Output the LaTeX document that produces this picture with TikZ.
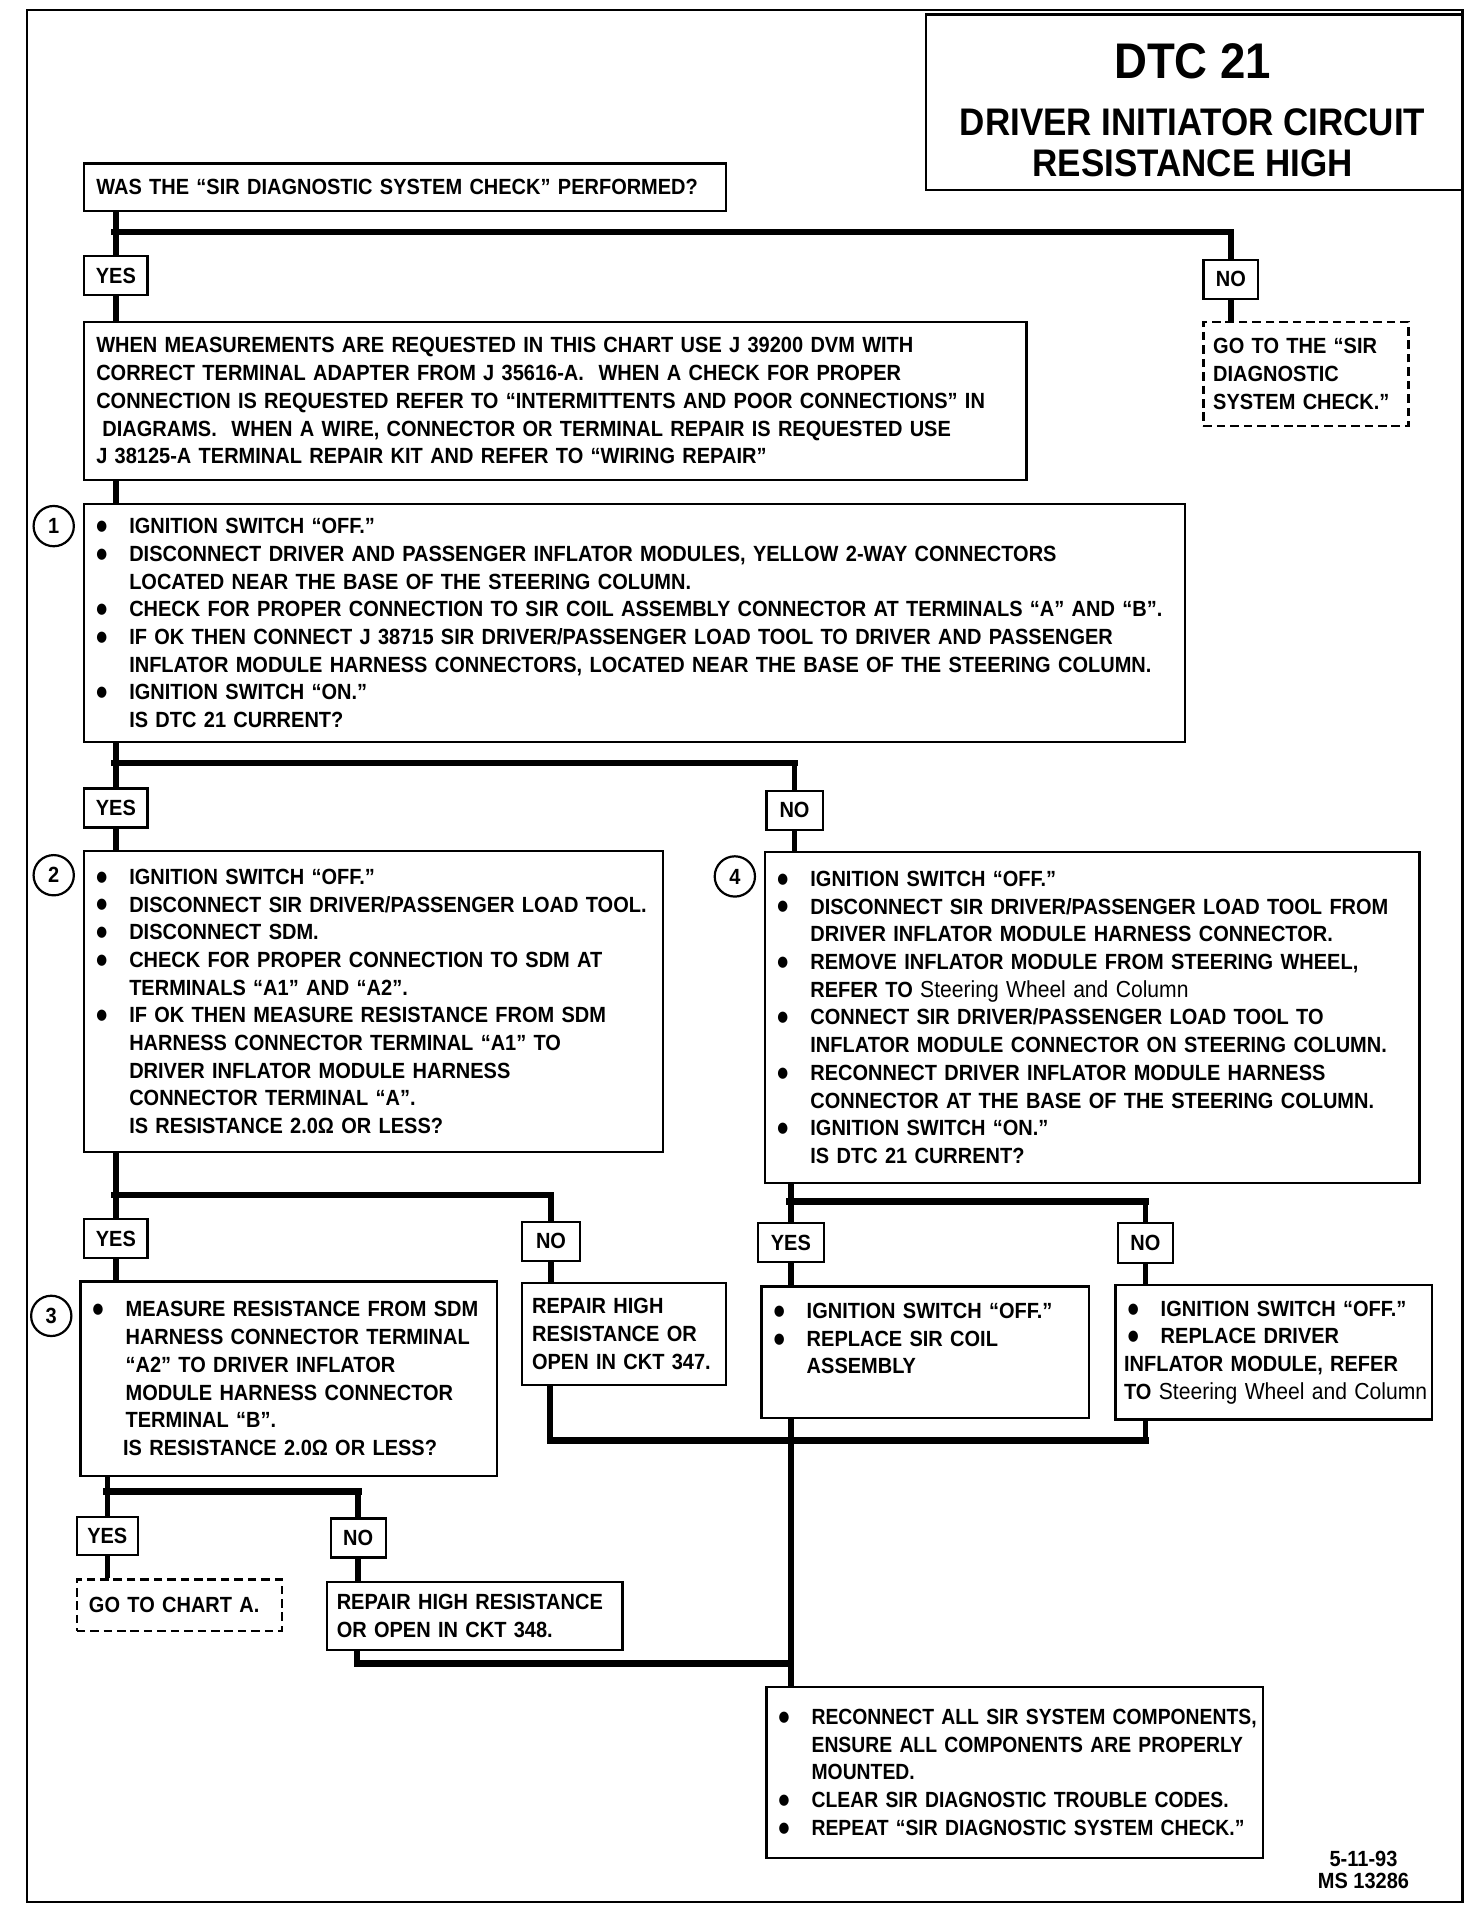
\documentclass[tikz,border=0pt]{standalone}
\usepackage{fontspec}
\setmainfont[FakeStretch=0.91]{Liberation Sans}
\newfontfamily\dotfont[FakeStretch=0.85]{DejaVu Sans}
\newcommand{\chartfont}{\fontsize{18}{22.7}\selectfont\bfseries}
\newcommand{\dotmark}{\hspace*{4pt}\raisebox{2.5pt}{\dotfont\fontsize{12}{12}\selectfont ●}}
\newcommand{\bul}[1]{\mbox{\makebox[31pt][l]{\dotmark}#1}}
\newcommand{\ind}[1]{\mbox{\hspace*{31pt}#1}}
\newcommand{\swc}{{\fontsize{19}{22.7}\selectfont\mdseries Steering Wheel and Column}}

\begin{document}
\begin{tikzpicture}[
    x=1pt,y=-1pt,
    box/.style={rectangle,draw,line width=1.8pt,anchor=north west,
      inner xsep=6pt,inner ysep=0pt,align=left,font=\chartfont},
    dbox/.style={box,dash pattern=on 7pt off 4pt},
    tag/.style={rectangle,draw,line width=1.8pt,anchor=north west,
      inner sep=0pt,minimum height=32pt,font=\chartfont},
    num/.style={circle,draw,line width=1.8pt,minimum size=33pt,
      inner sep=0pt,font=\chartfont},
    trunk/.style={line width=4.5pt},
    bar/.style={line width=5.5pt,line cap=rect}
  ]
  \useasboundingbox (0,0) rectangle (1206,1568);
  \draw[line width=2pt] (22,8) rectangle (1198,1558);

  % title block
  \node[rectangle,draw,line width=1.8pt,anchor=north west,inner sep=0pt,
    minimum width=439pt,minimum height=144pt] (ttl) at (758,11) {};
  \node[font=\fontsize{41}{41}\selectfont\bfseries] (dtc) at (977,50) {DTC 21};
  \node[align=center,font=\fontsize{31.5}{33}\selectfont\bfseries] (ttlsub) at (977,117)
    {DRIVER INITIATOR CIRCUIT\\RESISTANCE HIGH};

  \node[box,inner xsep=10pt,text width=506pt,minimum height=39pt] (q0) at (68,133)
    {WAS THE “SIR DIAGNOSTIC SYSTEM CHECK” PERFORMED?};
  \node[tag,minimum width=52pt] (yes0) at (68,209) {YES};
  \node[tag,minimum width=45pt] (no0) at (985,212) {NO};
  \node[box,inner xsep=10pt,text width=752pt,minimum height=129pt] (info) at (68,263)
    {\mbox{WHEN MEASUREMENTS ARE REQUESTED IN THIS CHART USE J 39200 DVM WITH}\\
     \mbox{CORRECT TERMINAL ADAPTER FROM J 35616-A.\ \ WHEN A CHECK FOR PROPER}\\
     \mbox{CONNECTION IS REQUESTED REFER TO “INTERMITTENTS AND POOR CONNECTIONS” IN}\\
     \mbox{\hspace*{5pt}DIAGRAMS.\ \ WHEN A WIRE, CONNECTOR OR TERMINAL REPAIR IS REQUESTED USE}\\
     \mbox{J 38125-A TERMINAL REPAIR KIT AND REFER TO “WIRING REPAIR”}};
  \node[dbox,inner xsep=8pt,text width=152pt,minimum height=85pt] (gosys) at (985,263)
    {GO TO THE “SIR\\DIAGNOSTIC\\SYSTEM CHECK.”};

  % step 1
  \node[box,text width=890pt,minimum height=195pt] (s1) at (68,412)
    {\bul{IGNITION SWITCH “OFF.”}\\
     \bul{DISCONNECT DRIVER AND PASSENGER INFLATOR MODULES, YELLOW 2-WAY CONNECTORS}\\
     \ind{LOCATED NEAR THE BASE OF THE STEERING COLUMN.}\\
     \bul{CHECK FOR PROPER CONNECTION TO SIR COIL ASSEMBLY CONNECTOR AT TERMINALS “A” AND “B”.}\\
     \bul{IF OK THEN CONNECT J 38715 SIR DRIVER/PASSENGER LOAD TOOL TO DRIVER AND PASSENGER}\\
     \ind{INFLATOR MODULE HARNESS CONNECTORS, LOCATED NEAR THE BASE OF THE STEERING COLUMN.}\\
     \bul{IGNITION SWITCH “ON.”}\\
     \ind{IS DTC 21 CURRENT?}};
  \node[num] (c1) at (44,431) {1};
  \node[tag,minimum width=52pt] (yes1) at (68,645) {YES};
  \node[tag,minimum width=46pt] (no1) at (627,647) {NO};

  % step 2
  \node[box,text width=462pt,minimum height=247pt] (s2) at (68,696)
    {\bul{IGNITION SWITCH “OFF.”}\\
     \bul{DISCONNECT SIR DRIVER/PASSENGER LOAD TOOL.}\\
     \bul{DISCONNECT SDM.}\\
     \bul{CHECK FOR PROPER CONNECTION TO SDM AT}\\
     \ind{TERMINALS “A1” AND “A2”.}\\
     \bul{IF OK THEN MEASURE RESISTANCE FROM SDM}\\
     \ind{HARNESS CONNECTOR TERMINAL “A1” TO}\\
     \ind{DRIVER INFLATOR MODULE HARNESS}\\
     \ind{CONNECTOR TERMINAL “A”.}\\
     \ind{IS RESISTANCE 2.0Ω OR LESS?}};
  \node[num] (c2) at (44,717) {2};

  % step 4
  \node[box,text width=524pt,minimum height=271pt] (s4) at (626,697)
    {\bul{IGNITION SWITCH “OFF.”}\\
     \bul{DISCONNECT SIR DRIVER/PASSENGER LOAD TOOL FROM}\\
     \ind{DRIVER INFLATOR MODULE HARNESS CONNECTOR.}\\
     \bul{REMOVE INFLATOR MODULE FROM STEERING WHEEL,}\\
     \ind{REFER TO \swc}\\
     \bul{CONNECT SIR DRIVER/PASSENGER LOAD TOOL TO}\\
     \ind{INFLATOR MODULE CONNECTOR ON STEERING COLUMN.}\\
     \bul{RECONNECT DRIVER INFLATOR MODULE HARNESS}\\
     \ind{CONNECTOR AT THE BASE OF THE STEERING COLUMN.}\\
     \bul{IGNITION SWITCH “ON.”}\\
     \ind{IS DTC 21 CURRENT?}};
  \node[num] (c4) at (602,718) {4};

  \node[tag,minimum width=52pt] (yes2) at (68,998) {YES};
  \node[tag,minimum width=47pt] (no2) at (427,1000) {NO};
  \node[tag,minimum width=54pt] (yes4) at (620,1001) {YES};
  \node[tag,minimum width=45pt,minimum height=33pt] (no4) at (915,1001) {NO};

  % step 3 and repairs
  \node[box,text width=329pt,minimum height=159pt] (s3) at (65,1049)
    {\bul{MEASURE RESISTANCE FROM SDM}\\
     \ind{HARNESS CONNECTOR TERMINAL}\\
     \ind{“A2” TO DRIVER INFLATOR}\\
     \ind{MODULE HARNESS CONNECTOR}\\
     \ind{TERMINAL “B”.}\\
     \mbox{\hspace*{29pt}IS RESISTANCE 2.0Ω OR LESS?}};
  \node[num] (c3) at (42,1078) {3};
  \node[box,inner xsep=8pt,text width=151pt,minimum height=84pt] (rep347) at (427,1050)
    {REPAIR HIGH\\RESISTANCE OR\\OPEN IN CKT 347.};
  \node[box,text width=256pt,minimum height=108pt] (coil) at (623,1053)
    {\bul{IGNITION SWITCH “OFF.”}\\
     \bul{REPLACE SIR COIL}\\
     \ind{ASSEMBLY}\\
     \mbox{}};
  \node[box,inner xsep=3pt,text width=253pt,minimum height=110pt] (drvmod) at (913,1052)
    {\mbox{\hspace*{3pt}\bul{IGNITION SWITCH “OFF.”}}\\
     \mbox{\hspace*{3pt}\bul{REPLACE DRIVER}}\\
     \mbox{\hspace*{4pt}INFLATOR MODULE, REFER}\\
     \mbox{\hspace*{4pt}TO \swc}};

  \node[tag,minimum width=50pt,minimum height=31pt] (yes3) at (62,1242) {YES};
  \node[tag,minimum width=45pt] (no3) at (270,1243) {NO};
  \node[dbox,inner xsep=10pt,text width=148pt,minimum height=42pt] (chartA) at (62,1293)
    {GO TO CHART A.};
  \node[box,inner xsep=8pt,text width=226pt,minimum height=56pt] (rep348) at (267,1295)
    {REPAIR HIGH RESISTANCE\\OR OPEN IN CKT 348.};

  % final step
  \node[box,inner xsep=3pt,text width=401pt,minimum height=140pt,
    font=\chartfont\addfontfeature{FakeStretch=0.88}] (final) at (627,1381)
    {\mbox{\hspace*{3pt}\bul{RECONNECT ALL SIR SYSTEM COMPONENTS,}}\\
     \mbox{\hspace*{3pt}\ind{ENSURE ALL COMPONENTS ARE PROPERLY}}\\
     \mbox{\hspace*{3pt}\ind{MOUNTED.}}\\
     \mbox{\hspace*{3pt}\bul{CLEAR SIR DIAGNOSTIC TROUBLE CODES.}}\\
     \mbox{\hspace*{3pt}\bul{REPEAT “SIR DIAGNOSTIC SYSTEM CHECK.”}}};
  \node[align=center,font=\fontsize{18}{18}\selectfont\bfseries] (dwg) at (1117,1532)
    {5-11-93\\MS 13286};

  % answers to q0
  \coordinate (br0) at (94,190);
  \draw[trunk] (q0.south -| yes0) -- (yes0);
  \draw[bar] (br0) -- (br0 -| no0);
  \draw[trunk] (br0 -| no0) -- (no0);
  \draw[trunk] (yes0) -- (info.north -| yes0);
  \draw[trunk] (no0) -- (gosys.north -| no0);
  \draw[trunk] (info.south -| yes1) -- (s1.north -| yes1);

  % answers to step 1
  \coordinate (br1) at (94,625);
  \draw[trunk] (s1.south -| yes1) -- (yes1);
  \draw[bar] (br1) -- (br1 -| no1);
  \draw[trunk] (br1 -| no1) -- (no1);
  \draw[trunk] (yes1) -- (s2.north -| yes1);
  \draw[trunk] (no1) -- (s4.north -| no1);

  % answers to step 2
  \coordinate (br2) at (94,979);
  \draw[trunk] (s2.south -| yes2) -- (yes2);
  \draw[bar] (br2) -- (br2 -| no2);
  \draw[trunk] (br2 -| no2) -- (no2);
  \draw[trunk] (yes2) -- (s3.north -| yes2);
  \draw[trunk] (no2) -- (rep347.north -| no2);

  % answers to step 4
  \coordinate (br4) at (647,984);
  \draw[trunk] (s4.south -| yes4) -- (yes4);
  \draw[bar] (br4) -- (br4 -| no4);
  \draw[trunk] (br4 -| no4) -- (no4);
  \draw[trunk] (yes4) -- (coil.north -| yes4);
  \draw[trunk] (no4) -- (drvmod.north -| no4);

  % answers to step 3
  \coordinate (br3) at (87,1222);
  \draw[trunk] (s3.south -| yes3) -- (yes3);
  \draw[bar] (br3) -- (br3 -| no3);
  \draw[trunk] (br3 -| no3) -- (no3);
  \draw[trunk] (yes3) -- (chartA.north -| yes3);
  \draw[trunk] (no3) -- (rep348.north -| no3);

  % repairs back to the final step
  \coordinate (mg1) at (450.5,1180);
  \draw[trunk] (rep347.south -| mg1) -- (mg1);
  \draw[bar] (mg1) -- (mg1 -| no4);
  \draw[trunk] (drvmod.south -| no4) -- (mg1 -| no4);
  \draw[trunk] (coil.south -| yes4) -- (final.north -| yes4);
  \coordinate (mg2) at (292.5,1363);
  \draw[trunk] (rep348.south -| mg2) -- (mg2);
  \draw[bar] (mg2) -- (mg2 -| yes4);
\end{tikzpicture}
\end{document}
